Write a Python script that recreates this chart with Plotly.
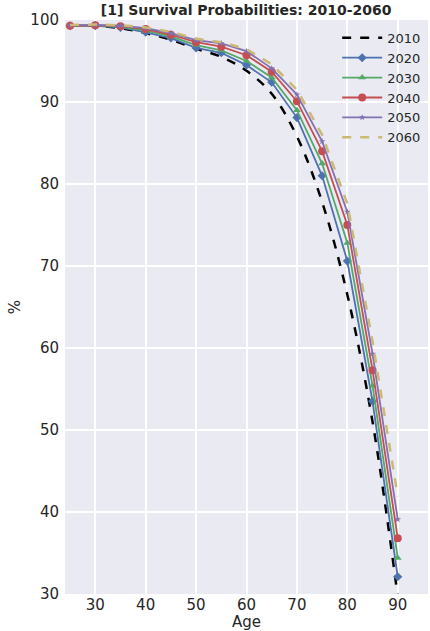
import plotly.graph_objects as go

ages = [25, 30, 35, 40, 45, 50, 55, 60, 65, 70, 75, 80, 85, 90]

s2010 = [99.3, 99.3, 99.0, 98.4, 97.6, 96.5, 95.5, 93.8, 91.0, 85.8, 77.8, 66.5, 51.0, 29.7]
s2020 = [99.3, 99.3, 99.1, 98.5, 97.8, 96.6, 96.0, 94.5, 92.4, 88.1, 81.0, 70.6, 53.5, 32.1]
s2030 = [99.3, 99.3, 99.2, 98.7, 98.0, 96.95, 96.3, 95.0, 93.0, 89.0, 82.5, 72.8, 55.4, 34.4]
s2040 = [99.3, 99.35, 99.25, 98.9, 98.2, 97.3, 96.75, 95.7, 93.7, 90.1, 84.0, 75.0, 57.3, 36.8]
s2050 = [99.35, 99.4, 99.3, 99.0, 98.4, 97.55, 97.15, 96.2, 94.1, 90.9, 85.2, 76.6, 59.3, 39.1]
s2060 = [99.4, 99.45, 99.35, 99.1, 98.55, 97.7, 97.3, 96.45, 94.6, 91.5, 86.0, 77.6, 60.8, 41.9]

labels = ["2010", "2020", "2030", "2040", "2050", "2060"]
series = [s2010, s2020, s2030, s2040, s2050, s2060]

styles = [
    dict(line=dict(color="black", width=2.5, dash="dash", shape="spline"), mode="lines"),
    dict(line=dict(color="#4C72B0", width=1.8), mode="lines+markers",
         marker=dict(symbol="diamond", size=7, color="#4C72B0")),
    dict(line=dict(color="#55A868", width=1.8), mode="lines+markers",
         marker=dict(symbol="triangle-up", size=7, color="#55A868")),
    dict(line=dict(color="#C44E52", width=1.8), mode="lines+markers",
         marker=dict(symbol="circle", size=8, color="#C44E52")),
    dict(line=dict(color="#8172B2", width=1.8), mode="lines+markers",
         marker=dict(symbol="star", size=5, color="#8172B2")),
    dict(line=dict(color="#CCB974", width=2.5, dash="dash"), mode="lines"),
]

fig = go.Figure()
for lab, ys, st in zip(labels, series, styles):
    fig.add_trace(go.Scatter(x=ages, y=ys, name=lab, **st))

font = "DejaVu Sans, Liberation Sans, sans-serif"
fig.update_layout(
    width=430, height=631,
    margin=dict(l=65, r=2, t=20, b=37),
    paper_bgcolor="white",
    plot_bgcolor="#EAEAF2",
    font=dict(family=font, size=15, color="#262626"),
    title=dict(text="<b>[1] Survival Probabilities: 2010-2060</b>",
               x=0.5725, xanchor="center", y=0.984, yanchor="middle",
               font=dict(size=14, color="#262626")),
    legend=dict(x=0.995, y=0.995, xanchor="right", yanchor="top",
                bgcolor="rgba(0,0,0,0)", font=dict(size=13),
                itemwidth=40, tracegroupgap=0),
    showlegend=True,
)
fig.update_xaxes(range=[24, 96], tickvals=[30, 40, 50, 60, 70, 80, 90],
                 showgrid=True, gridcolor="white", gridwidth=1.5,
                 zeroline=False, showline=False, ticks="",
                 tickfont=dict(size=15), title=dict(text="Age", standoff=2, font=dict(size=15)))
fig.update_yaxes(range=[30, 100], tickvals=[30, 40, 50, 60, 70, 80, 90, 100],
                 showgrid=True, gridcolor="white", gridwidth=1.5,
                 zeroline=False, showline=False, ticks="", ticklabelstandoff=5,
                 tickfont=dict(size=15), title=dict(text="%", standoff=6, font=dict(size=15)))

fig.write_html("out.html")
